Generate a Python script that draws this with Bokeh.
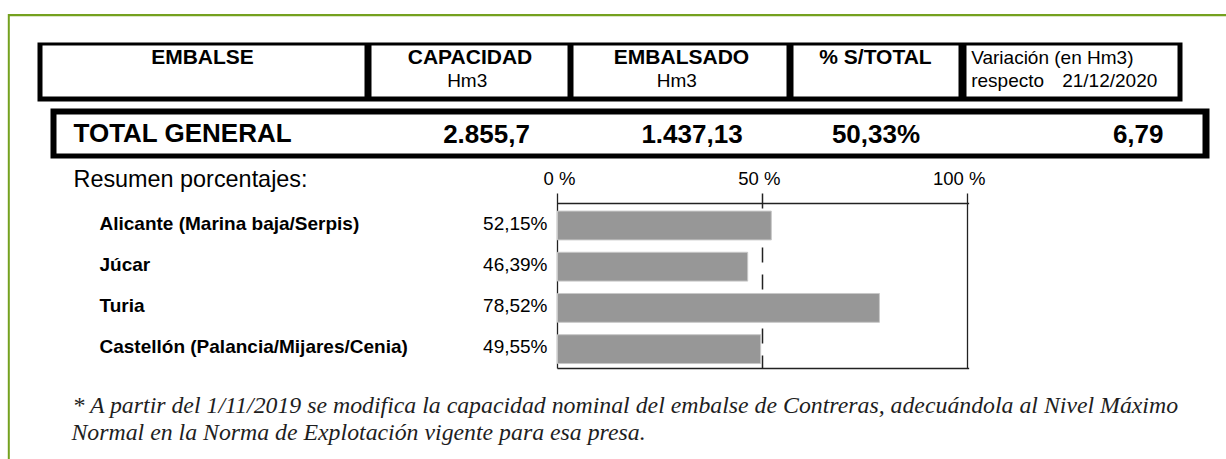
from bokeh.plotting import figure
from bokeh.models import Range1d, ColumnDataSource
from bokeh.core.properties import value
from bokeh.embed import file_html
from bokeh.resources import INLINE

# ---------------- data ----------------
headers = ["EMBALSE", "CAPACIDAD", "EMBALSADO", "% S/TOTAL"]
header_units = ["", "Hm3", "Hm3", ""]
variation_header = ["Variación (en Hm3)", "respecto", "21/12/2020"]
total_label = "TOTAL GENERAL"
total_values = ["2.855,7", "1.437,13", "50,33%", "6,79"]
section_title = "Resumen porcentajes:"
categories = ["Alicante (Marina baja/Serpis)", "Júcar", "Turia",
              "Castellón (Palancia/Mijares/Cenia)"]
percentages = [52.15, 46.39, 78.52, 49.55]
axis_ticks = [0, 50, 100]
axis_tick_labels = ["0 %", "50 %", "100 %"]
footnote_lines = [
    "* A partir del 1/11/2019 se modifica la capacidad nominal del embalse de Contreras, adecuándola al Nivel Máximo",
    "Normal en la Norma de Explotación vigente para esa presa.",
]

# ---------------- layout (pixels) ----------------
W, H = 1226, 459
SANS = value("Liberation Sans")
SERIF = value("Liberation Serif")

p = figure(width=W, height=H, x_range=Range1d(0, W), y_range=Range1d(H, 0),
           output_backend="svg", toolbar_location=None,
           x_axis_location=None, y_axis_location=None, min_border=0)
p.xgrid.visible = False
p.ygrid.visible = False
p.outline_line_color = None
p.background_fill_color = "white"
p.border_fill_color = "white"

# percent scale: 0% at px 557, 100% at px 967
px0, px100 = 557.0, 967.0
k = (px100 - px0) / 100.0
p.extra_x_ranges = {"pct": Range1d(-px0 / k, (W - px0) / k)}
# rows: row 0 center at px 225, spacing 41.2
r0, rs = 225.0, 41.2
p.extra_y_ranges = {"rows": Range1d((H - r0) / rs, (0 - r0) / rs)}

# green frame
green = "#74a11f"
p.quad(left=[7.5], right=[W], top=[13.5], bottom=[15.8], fill_color=green, line_color=None)
p.quad(left=[7.3], right=[9.3], top=[13.5], bottom=[H], fill_color=green, line_color=None)

# header table
p.quad(left=[37], right=[1182], top=[42], bottom=[101], fill_color="black", line_color=None)
cell_l = [42, 371, 573, 793, 966]
cell_r = [364, 567, 786, 958, 1177]
p.quad(left=cell_l, right=cell_r, top=[45] * 5, bottom=[96] * 5,
       fill_color="white", line_color=None)

head_x = [202, 469.5, 681, 875]
p.text(x=head_x, y=[56.3] * 4, text=headers, text_align="center",
       text_baseline="middle", text_font=SANS, text_font_style="bold",
       text_font_size="21px", text_color="black")
unit_x = [466.7, 676.3]
units = [u for u in header_units if u]
p.text(x=unit_x, y=[80.0] * 2, text=units, text_align="center",
       text_baseline="middle", text_font=SANS, text_font_size="19px",
       text_color="black")
p.text(x=[970.7, 970.7, 1061.7], y=[57.2, 79.7, 79.7], text=variation_header,
       text_align="left", text_baseline="middle", text_font=SANS,
       text_font_size="19px", text_color="black")

# total row
p.quad(left=[50], right=[1209], top=[108], bottom=[158], fill_color="black", line_color=None)
p.quad(left=[56], right=[1202], top=[114], bottom=[153], fill_color="white", line_color=None)
p.text(x=[73], y=[132.5], text=[total_label], text_align="left",
       text_baseline="middle", text_font=SANS, text_font_style="bold",
       text_font_size="26px", text_color="black")
p.text(x=[486, 691.5, 875.5], y=[133.0] * 3, text=total_values[:3],
       text_align="center", text_baseline="middle", text_font=SANS,
       text_font_style="bold", text_font_size="26px", text_color="black")
p.text(x=[1163], y=[133.0], text=total_values[3:], text_align="right",
       text_baseline="middle", text_font=SANS, text_font_style="bold",
       text_font_size="26px", text_color="black")

# section title
p.text(x=[73], y=[178.6], text=[section_title], text_align="left",
       text_baseline="middle", text_font=SANS, text_font_size="23.4px",
       text_color="black")

# bar chart frame (percent units on x)
rows = list(range(len(categories)))
axis_top, axis_bottom, tick_top = 203.0, 368.0, 193.0
p.segment(x0=[axis_ticks[0]], x1=[axis_ticks[-1] + 0.4], y0=[axis_top], y1=[axis_top],
          x_range_name="pct", line_color="#222222", line_width=1.3)
p.segment(x0=[axis_ticks[0]], x1=[axis_ticks[-1] + 0.4], y0=[axis_bottom], y1=[axis_bottom],
          x_range_name="pct", line_color="#222222", line_width=1.3)
edge_ticks = [axis_ticks[0], axis_ticks[-1]]
p.segment(x0=edge_ticks, x1=edge_ticks, y0=[tick_top] * 2, y1=[axis_bottom] * 2,
          x_range_name="pct", line_color="#222222", line_width=1.3)
mid = axis_ticks[1:-1]
p.segment(x0=mid, x1=mid, y0=[tick_top] * len(mid), y1=[axis_bottom] * len(mid),
          x_range_name="pct", line_color="#222222", line_width=1.5, line_dash="15 12")
p.text(x=axis_ticks, y=[178.4] * 3, text=axis_tick_labels, x_offset=18,
       x_range_name="pct", text_align="right", text_baseline="middle",
       text_font=SANS, text_font_size="18.5px", text_color="black")

src = ColumnDataSource(dict(row=rows, pct=percentages, cat=categories,
                            lab=[f"{v:.2f}".replace(".", ",") + "%" for v in percentages]))
p.hbar(y="row", left=0, right="pct", height=0.7, source=src,
       x_range_name="pct", y_range_name="rows",
       fill_color="#979797", line_color="#c8c8c8", line_width=1)

p.text(x=99, y="row", text="cat", source=src, y_range_name="rows", y_offset=-2.5,
       text_align="left", text_baseline="middle", text_font=SANS,
       text_font_style="bold", text_font_size="19px", text_color="black")
p.text(x=547, y="row", text="lab", source=src, y_range_name="rows", y_offset=-2.5,
       text_align="right", text_baseline="middle", text_font=SANS,
       text_font_size="19px", text_color="black")

# footnote
p.text(x=[72, 71], y=[404.3, 431.0], text=footnote_lines, text_align="left",
       text_baseline="middle", text_font=SERIF, text_font_style="italic",
       text_font_size="23.8px", text_color="#1e1e1e")

open("out.html", "w").write(file_html(p, INLINE))
